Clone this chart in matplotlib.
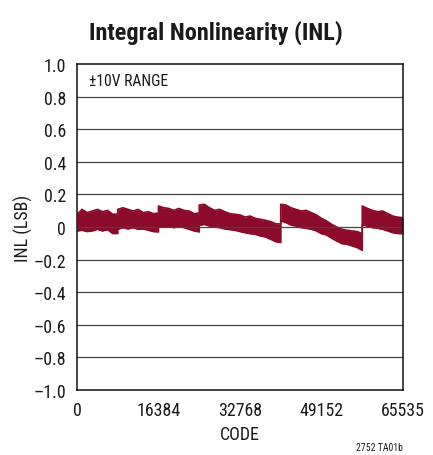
import matplotlib
matplotlib.use("Agg")
import matplotlib.pyplot as plt
from matplotlib import font_manager

# ---- data ----
code = [0, 1024, 2048, 3072, 4096, 5120, 6144, 7168, 8191, 8192, 9216, 10240,
        11264, 12288, 13312, 14336, 15360, 16383, 16384, 17408, 18432, 19456,
        20480, 21504, 22528, 23552, 24575, 24576, 25600, 26624, 27648, 28672,
        29696, 30720, 31744, 32768, 33792, 34816, 35840, 36864, 37888, 38912,
        39936, 40959, 40960, 41984, 43008, 44032, 45056, 46080, 47104, 48128,
        49152, 50176, 51200, 52224, 53248, 54272, 55296, 56320, 57343, 57344,
        58368, 59392, 60416, 61440, 62464, 63488, 64512, 65535]
inl_hi = [0.078, 0.108, 0.088, 0.098, 0.108, 0.094, 0.102, 0.078, 0.080, 0.108,
          0.118, 0.108, 0.098, 0.108, 0.088, 0.094, 0.082, 0.085, 0.129, 0.118,
          0.114, 0.102, 0.114, 0.102, 0.098, 0.082, 0.085, 0.135, 0.139, 0.118,
          0.102, 0.108, 0.094, 0.082, 0.078, 0.074, 0.061, 0.067, 0.053, 0.047,
          0.041, 0.033, 0.020, 0.018, 0.139, 0.135, 0.118, 0.108, 0.098, 0.102,
          0.088, 0.074, 0.053, 0.037, 0.016, 0.000, -0.014, -0.020, -0.024,
          -0.028, -0.041, 0.129, 0.114, 0.102, 0.094, 0.098, 0.082, 0.067,
          0.060, 0.057]
inl_lo = [-0.024, -0.020, -0.028, -0.024, -0.014, -0.024, -0.016, -0.040,
          -0.040, -0.014, -0.004, -0.012, -0.004, -0.014, -0.012, -0.020,
          -0.028, -0.030, 0.004, 0.000, 0.006, -0.004, 0.004, -0.004, -0.014,
          -0.024, -0.030, 0.010, 0.016, 0.006, 0.000, -0.004, -0.012, -0.016,
          -0.020, -0.028, -0.035, -0.041, -0.045, -0.055, -0.061, -0.075,
          -0.090, -0.095, 0.037, 0.027, 0.012, 0.006, -0.004, -0.008, -0.014,
          -0.024, -0.041, -0.049, -0.069, -0.086, -0.102, -0.106, -0.116,
          -0.126, -0.143, 0.012, 0.006, -0.004, -0.008, -0.014, -0.024,
          -0.035, -0.040, -0.041]
x_ticks = [0, 16384, 32768, 49152, 65535]
y_ticks = [-1.0, -0.8, -0.6, -0.4, -0.2, 0, 0.2, 0.4, 0.6, 0.8, 1.0]
y_labels = ["\u20131.0", "\u20130.8", "\u20130.6", "\u20130.4", "\u20130.2", "0",
            "0.2", "0.4", "0.6", "0.8", "1.0"]

# ---- fonts: prefer a condensed sans if one is installed ----
names = sorted({f.name for f in font_manager.fontManager.ttflist})
narrow = [n for n in names if ("Narrow" in n or "Condensed" in n)
          and "Semi" not in n and "Extra" not in n]
pref = ["Liberation Sans Narrow", "Roboto Condensed", "Open Sans Condensed",
        "Noto Sans Condensed"]
fam = None
for p in pref:
    if p in names:
        fam = p
        break
if fam is None and narrow:
    fam = narrow[0]
condensed = fam is not None
if fam is None:
    fam = "Liberation Sans"
plt.rcParams['font.family'] = [fam, 'DejaVu Sans']

k = 1.0 if not condensed else 1.07
TICK = 12 * k
TITLE = 15.5 if not condensed else 17.5
TXT = "#1a1a1a"
TRACE = "#8c0a2a"

fig = plt.figure(figsize=(4.33, 4.56), dpi=100)
ax = fig.add_axes([77 / 433, 1 - 391 / 456, 326 / 433, 326 / 456])

ax.fill_between(code, inl_lo, inl_hi, color=TRACE, lw=0, zorder=2)
ax.plot(code, inl_hi, color=TRACE, lw=1.2, zorder=2)
ax.plot(code, inl_lo, color=TRACE, lw=1.2, zorder=2)

for yv in y_ticks[1:-1]:
    ax.axhline(yv, color="#444444", lw=0.9, zorder=3)

ax.set_xlim(0, 65535)
ax.set_ylim(-1.0, 1.0)
ax.set_xticks(x_ticks)
ax.set_xticklabels([str(v) for v in x_ticks], fontsize=TICK, color=TXT)
ax.set_yticks(y_ticks)
ax.set_yticklabels(y_labels, fontsize=TICK, color=TXT)
ax.tick_params(length=0)
ax.tick_params(axis='x', pad=8)
ax.tick_params(axis='y', pad=8)
for s in ax.spines.values():
    s.set_linewidth(1.1)
    s.set_color("#111111")
    s.set_zorder(4)

ax.set_xlabel("CODE", fontsize=TICK, color=TXT, labelpad=4)
ax.set_ylabel("INL (LSB)", fontsize=TICK, color=TXT)
ax.yaxis.set_label_coords(-44 / 326, 0.5)

ax.text(12 / 326, 0.948, "\u00b110V RANGE", transform=ax.transAxes,
        fontsize=10.5 * k, color=TXT, va="center", ha="left")

fig.text(216 / 433, 1 - 33 / 456, "Integral Nonlinearity (INL)", fontsize=TITLE,
         fontweight="bold", ha="center", va="center", color=TXT)
fig.text(403 / 433, 1 - 448 / 456, "2752 TA01b", fontsize=7, ha="right",
         va="center", color=TXT)

fig.savefig("out.png", dpi=100)
